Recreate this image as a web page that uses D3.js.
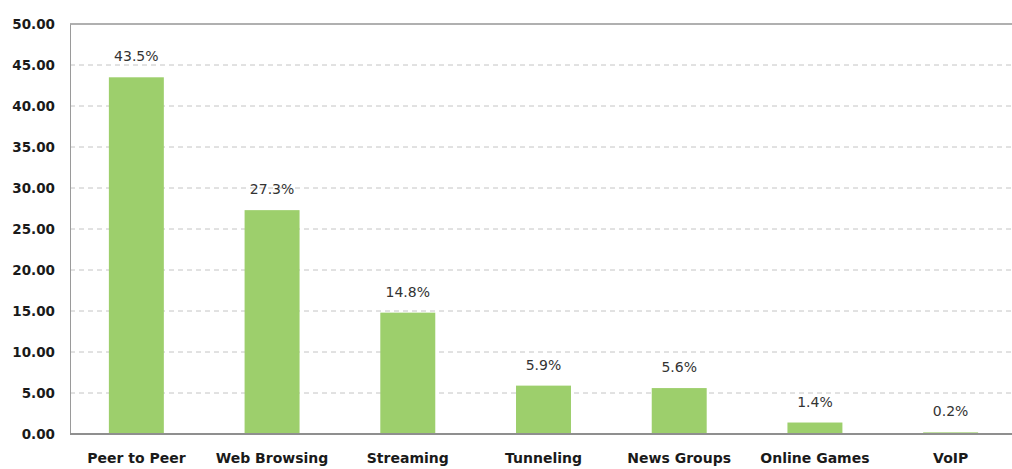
<!DOCTYPE html>
<html>
<head>
<meta charset="utf-8">
<script src="https://cdn.jsdelivr.net/npm/d3@7"></script>
<style>
  html, body { margin: 0; padding: 0; background: #fff; overflow: hidden; }
  svg { display: block; }
</style>
</head>
<body>
<svg id="chart" width="1012" height="469"></svg>
<script>
// Share of traffic by application type (%)
const categories = ["Peer to Peer", "Web Browsing", "Streaming", "Tunneling", "News Groups", "Online Games", "VoIP"];
const shares = [43.5, 27.3, 14.8, 5.9, 5.6, 1.4, 0.2];
const yTicks = [0, 5, 10, 15, 20, 25, 30, 35, 40, 45, 50];

const svg = d3.select("#chart");
const W = 1012;
const plotLeft = 70, plotTop = 24, plotBottom = 434;

const x = d3.scaleBand()
  .domain(categories)
  .range([68.5, 1018.5])
  .paddingInner(0.595)
  .paddingOuter(0.2975);

const y = d3.scaleLinear().domain([0, 50]).range([plotBottom, plotTop]);

// dashed gridlines
svg.append("g")
  .selectAll("line")
  .data(yTicks.filter(t => t > 0 && t < 50))
  .join("line")
  .attr("x1", plotLeft).attr("x2", W)
  .attr("y1", d => y(d)).attr("y2", d => y(d))
  .attr("stroke", "#c4c4c4")
  .attr("stroke-width", 1)
  .attr("stroke-dasharray", "5,4");

// top border at 50
svg.append("line")
  .attr("x1", plotLeft).attr("x2", W)
  .attr("y1", y(50)).attr("y2", y(50))
  .attr("stroke", "#b0b0b0").attr("stroke-width", 2);

// y axis
const yAxis = d3.axisLeft(y)
  .tickValues(yTicks)
  .tickSize(0)
  .tickSizeOuter(0)
  .tickPadding(15)
  .tickFormat(d3.format(".2f"));
const gy = svg.append("g").attr("transform", `translate(${plotLeft},0)`).call(yAxis);
gy.select(".domain").attr("stroke", "#9a9a9a").attr("stroke-width", 1);
gy.selectAll("text")
  .attr("font-family", "'DejaVu Sans', Verdana, sans-serif")
  .attr("font-size", "13.5px")
  .attr("font-weight", "bold")
  .attr("fill", "#1a1a1a");

const rows = categories.map((c, i) => ({ c, v: shares[i] }));

// bars
svg.append("g")
  .selectAll("rect")
  .data(rows)
  .join("rect")
  .attr("x", d => x(d.c))
  .attr("width", x.bandwidth())
  .attr("y", d => y(d.v))
  .attr("height", d => y(0) - y(d.v))
  .attr("fill", "#9dcf6c");

// value labels
svg.append("g")
  .selectAll("text")
  .data(rows)
  .join("text")
  .attr("x", d => x(d.c) + x.bandwidth() / 2)
  .attr("y", d => y(d.v) - 16)
  .attr("text-anchor", "middle")
  .attr("font-family", "'DejaVu Sans', Verdana, sans-serif")
  .attr("font-size", "14px")
  .attr("fill", "#333")
  .text(d => d.v.toFixed(1) + "%");

// x axis baseline
svg.append("line")
  .attr("x1", plotLeft).attr("x2", W)
  .attr("y1", y(0)).attr("y2", y(0))
  .attr("stroke", "#8f8f8f").attr("stroke-width", 2);

// x axis category labels (ticks only, no domain path)
const xAxis = d3.axisBottom(x).tickSize(0).tickSizeOuter(0).tickPadding(19);
const gx = svg.append("g").attr("transform", `translate(0,${plotBottom})`).call(xAxis);
gx.select(".domain").remove();
gx.selectAll("text")
  .attr("font-family", "'DejaVu Sans', Verdana, sans-serif")
  .attr("font-size", "14px")
  .attr("font-weight", "bold")
  .attr("fill", "#1a1a1a");
</script>
</body>
</html>
